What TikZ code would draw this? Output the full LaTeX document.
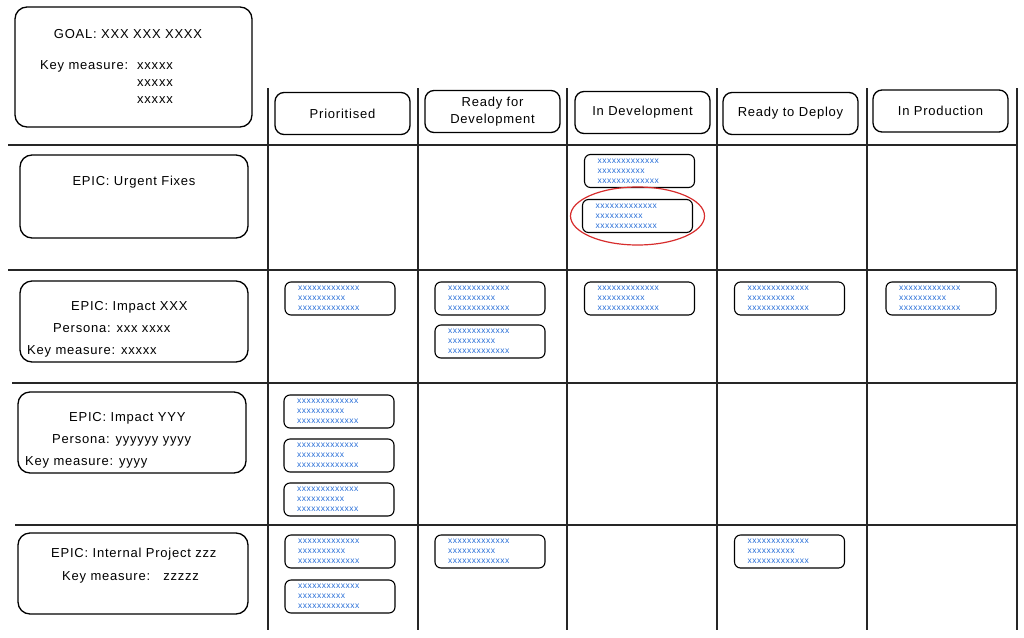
\documentclass[tikz,border=0pt]{standalone}
\usepackage{fontspec}
\setmainfont{Liberation Sans}[LetterSpace=6]
\definecolor{xblue}{RGB}{40,110,215}
\definecolor{ringred}{RGB}{215,45,45}
\newcommand{\cardxs}{xxxxxxxxxxxxx\\xxxxxxxxxx\\xxxxxxxxxxxxx}
\tikzset{
	box/.style={draw, line width=1.3pt, rounded corners=12pt},
	head/.style={draw, line width=1.3pt, rounded corners=9pt, minimum width=135pt, minimum height=42pt, align=center, font=\fontsize{13}{17}\selectfont},
	card/.style={draw, line width=1.1pt, rounded corners=6pt, minimum width=110pt, minimum height=33pt, text width=84pt, align=left, inner sep=0pt, font=\fontsize{8.5}{10}\selectfont, text=xblue},
	grid/.style={line width=1.5pt, black!85},
	lbl/.style={font=\fontsize{13}{15}\selectfont, inner sep=0pt},
}

\begin{document}
\begin{tikzpicture}[x=1pt,y=-1pt]
	\useasboundingbox (0,0) rectangle (1024,637);

	% goal
	\node[box, minimum width=237pt, minimum height=120pt] (goal) at (133.5,67) {};
	\node[lbl, anchor=base] (goalt) at (128,38) {GOAL: XXX XXX XXXX};
	\node[lbl, anchor=base west] (goalk) at (40,69) {Key measure:};
	\node[lbl, anchor=base west] (goalx1) at (137,69) {xxxxx};
	\node[lbl, anchor=base west] (goalx2) at (137,86) {xxxxx};
	\node[lbl, anchor=base west] (goalx3) at (137,103) {xxxxx};

	% grid
	\draw[grid] (268,88) -- (268,630);
	\draw[grid] (418,88) -- (418,630);
	\draw[grid] (567,88) -- (567,630);
	\draw[grid] (717,88) -- (717,630);
	\draw[grid] (867,88) -- (867,630);
	\draw[grid] (1017,88) -- (1017,630);
	\draw[grid] (8,145) -- (1017,145);
	\draw[grid] (8,270) -- (1017,270);
	\draw[grid] (12,383) -- (1017,383);
	\draw[grid] (15,525) -- (1017,525);

	% columns
	\node[head] (prio) at (342.5,113.5) {Prioritised};
	\node[head] (ready) at (492.5,111.5) {Ready for\\Development};
	\node[head] (indev) at (642.5,112.5) {In Development};
	\node[head] (deploy) at (790.5,113.5) {Ready to Deploy};
	\node[head] (prod) at (940.5,111) {In Production};

	% epics
	\node[box, minimum width=228pt, minimum height=83pt] (urgent) at (134,196.5) {};
	\node[lbl, anchor=base] (urgentt) at (134,185) {EPIC: Urgent Fixes};

	\node[box, minimum width=228pt, minimum height=81pt] (impx) at (134,321.5) {};
	\node[lbl, anchor=base west] (impxt) at (71,310) {EPIC: Impact XXX};
	\node[lbl, anchor=base west] (impxp) at (53,332) {Persona: xxx xxxx};
	\node[lbl, anchor=base west] (impxk) at (27,354) {Key measure: xxxxx};

	\node[box, minimum width=228pt, minimum height=81pt] (impy) at (132,432.5) {};
	\node[lbl, anchor=base west] (impyt) at (69,421) {EPIC: Impact YYY};
	\node[lbl, anchor=base west] (impyp) at (52,443) {Persona: yyyyyy yyyy};
	\node[lbl, anchor=base west] (impyk) at (25,465) {Key measure: yyyy};

	\node[box, minimum width=230pt, minimum height=81pt] (intp) at (133,573.5) {};
	\node[lbl, anchor=base west] (intpt) at (51,557) {EPIC: Internal Project zzz};
	\node[lbl, anchor=base west] (intpk) at (62,580) {Key measure:\ \ \ zzzzz};

	% cards
	\node[card] (ua) at (639.5,171) {\cardxs};
	\node[card] (ub) at (637.5,216) {\cardxs};
	\draw[ringred, line width=1.2pt] (ub.center) ellipse [x radius=67, y radius=29];

	\node[card] (xa) at (340,298.5) {\cardxs};
	\node[card] (xb) at (490,298.5) {\cardxs};
	\node[card] (xc) at (490,341.5) {\cardxs};
	\node[card] (xd) at (639.5,298.5) {\cardxs};
	\node[card] (xe) at (789.5,298.5) {\cardxs};
	\node[card] (xf) at (941,298.5) {\cardxs};

	\node[card] (ya) at (339,411.5) {\cardxs};
	\node[card] (yb) at (339,455.5) {\cardxs};
	\node[card] (yc) at (339,499.5) {\cardxs};

	\node[card] (za) at (340,551.5) {\cardxs};
	\node[card] (zb) at (340,596.5) {\cardxs};
	\node[card] (zc) at (490,551.5) {\cardxs};
	\node[card] (zd) at (789.5,551.5) {\cardxs};
\end{tikzpicture}
\end{document}
